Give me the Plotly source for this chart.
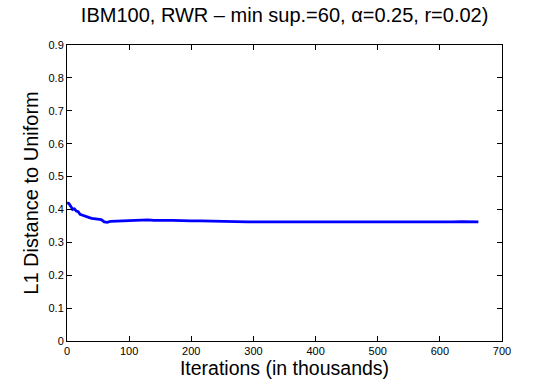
import plotly.graph_objects as go

iterations = [0, 3, 6, 9, 12, 15, 18, 21, 24, 28, 32, 36, 40, 45, 50, 55, 60, 65, 70,
              80, 90, 100, 110, 120, 130, 140, 150, 160, 170, 180, 190, 200, 215, 230,
              245, 260, 275, 290, 305, 320, 335, 350, 365, 380, 395, 410, 425, 440, 455,
              470, 485, 500, 515, 530, 545, 560, 575, 590, 605, 620, 635, 650, 662]
l1_distance = [0.420, 0.418, 0.410, 0.400, 0.402, 0.395, 0.393, 0.385, 0.383,
               0.380, 0.376, 0.375, 0.373, 0.372, 0.370, 0.369, 0.362, 0.361, 0.364,
               0.365, 0.366, 0.367, 0.368, 0.369, 0.368, 0.367, 0.368, 0.367, 0.367,
               0.366, 0.366, 0.365, 0.365, 0.364, 0.364, 0.363, 0.362, 0.362, 0.362,
               0.362, 0.361, 0.362, 0.361, 0.361, 0.360, 0.360, 0.361, 0.361, 0.360,
               0.361, 0.361, 0.362, 0.362, 0.361, 0.362, 0.362, 0.362, 0.362, 0.362,
               0.362, 0.363, 0.362, 0.362]

x_ticks = [0, 100, 200, 300, 400, 500, 600, 700]
y_ticks = [0, 0.1, 0.2, 0.3, 0.4, 0.5, 0.6, 0.7, 0.8, 0.9]
y_tick_labels = ["0", "0.1", "0.2", "0.3", "0.4", "0.5", "0.6", "0.7", "0.8", "0.9"]

font_family = "Liberation Sans, Arial, Helvetica, sans-serif"

fig = go.Figure()
fig.add_trace(go.Scatter(
    x=iterations, y=l1_distance, mode="lines",
    line=dict(color="#0000FF", width=2.8),
    showlegend=False,
))

axis_common = dict(
    showline=True, linecolor="black", linewidth=1, mirror="ticks",
    ticks="inside", ticklen=5, tickwidth=1, tickcolor="black",
    showgrid=False, zeroline=False,
    tickfont=dict(family=font_family, size=11, color="black"),
)

fig.update_layout(
    width=537, height=385,
    margin=dict(l=67, r=35, t=45, b=40),
    paper_bgcolor="white", plot_bgcolor="white",
    font=dict(family=font_family, color="black"),
    title=dict(
        text="IBM100, RWR \u2013 min sup.=60, \u03b1=0.25, r=0.02)",
        x=0.53, xanchor="center", y=0.962, yanchor="middle",
        font=dict(size=20, family=font_family, color="black"),
    ),
    xaxis=dict(
        range=[0, 700], tickvals=x_ticks,
        title=dict(text="Iterations (in thousands)", standoff=2,
                   font=dict(size=19.5, family=font_family, color="black")),
        **axis_common,
    ),
    yaxis=dict(
        range=[0, 0.9], tickvals=y_ticks, ticktext=y_tick_labels,
        title=dict(text="L1 Distance to Uniform", standoff=4,
                   font=dict(size=20, family=font_family, color="black")),
        **axis_common,
    ),
)

fig.write_html("out.html")
